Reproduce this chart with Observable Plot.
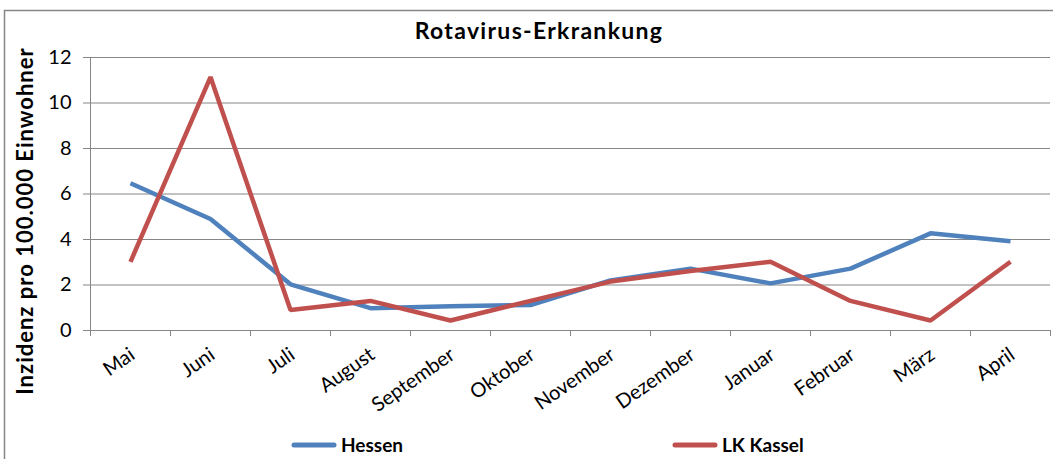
<!DOCTYPE html>
<html>
<head>
<meta charset="utf-8">
<script src="https://cdn.jsdelivr.net/npm/d3@7"></script>
<script src="https://cdn.jsdelivr.net/npm/@observablehq/plot@0.6"></script>
<style>
  html, body { margin: 0; padding: 0; background: #fff; }
  svg { display: block; }
</style>
</head>
<body>
<div id="chart"></div>
<script>
const months = ["Mai","Juni","Juli","August","September","Oktober","November","Dezember","Januar","Februar","März","April"];
const hessen = [6.47, 4.90, 2.03, 0.98, 1.07, 1.12, 2.20, 2.72, 2.07, 2.72, 4.27, 3.92];
const kassel = [3.02, 11.14, 0.90, 1.30, 0.44, 1.30, 2.15, 2.62, 3.02, 1.30, 0.44, 3.02];
const yTicks = [0, 2, 4, 6, 8, 10, 12];
const seriesNames = ["Hessen", "LK Kassel"];
const seriesColors = ["#4F81BD", "#C0504D"];
const title = "Rotavirus-Erkrankung";
const yLabel = "Inzidenz pro 100.000 Einwohner";

const rows = [];
months.forEach((m, i) => {
  rows.push({i, month: m, series: seriesNames[0], v: hessen[i]});
  rows.push({i, month: m, series: seriesNames[1], v: kassel[i]});
});
const boundaries = d3.range(months.length + 1).map(k => k - 0.5);
const grey = "#868686";
const font = "Lato, 'Open Sans', sans-serif";

const svg = Plot.plot({
  width: 1053,
  height: 459,
  marginLeft: 90,
  marginRight: 3,
  marginTop: 57,
  marginBottom: 129,
  style: {fontFamily: font, background: "white", color: "#000"},
  x: {type: "linear", domain: [-0.5, months.length - 0.5]},
  y: {domain: [0, 12]},
  color: {domain: seriesNames, range: seriesColors},
  marks: [
    Plot.gridY(yTicks, {stroke: grey, strokeOpacity: 1, strokeWidth: 1}),
    Plot.ruleX([-0.5], {stroke: grey, strokeWidth: 1}),
    Plot.axisY(yTicks, {tickSize: 7, tickPadding: 12, fontSize: 20, stroke: grey, label: null}),
    Plot.axisX(boundaries, {tickSize: 6, tickFormat: () => "", stroke: grey, label: null}),
    Plot.axisX(d3.range(months.length), {
      tickSize: 0, tickPadding: 22, dx: 2, tickFormat: i => months[i], tickRotate: -35,
      fontSize: 20, textAnchor: "end", label: null
    }),
    Plot.line(rows, {x: "i", y: "v", z: "series", stroke: "series", strokeWidth: 4.5, strokeLinejoin: "miter", strokeLinecap: "butt"})
  ]
});

const s = d3.select(svg);
s.append("rect")
  .attr("x", 4.5).attr("y", 10.5).attr("width", 1060).attr("height", 460)
  .attr("fill", "none").attr("stroke", grey).attr("stroke-width", 1.5);
s.append("text")
  .attr("x", 539).attr("y", 39).attr("text-anchor", "middle")
  .attr("font-family", font).attr("font-weight", "bold").attr("font-size", 23)
  .attr("letter-spacing", 1.3)
  .attr("fill", "#000").text(title);
s.append("text")
  .attr("transform", "translate(33,221) rotate(-90)").attr("text-anchor", "middle")
  .attr("font-family", font).attr("font-weight", "bold").attr("font-size", 22)
  .attr("letter-spacing", 1)
  .attr("fill", "#000").text(yLabel);

const legendItems = [{x: 292, name: seriesNames[0], color: seriesColors[0]}, {x: 673, name: seriesNames[1], color: seriesColors[1]}];
legendItems.forEach(d => {
  s.append("line").attr("x1", d.x + 2).attr("x2", d.x + 42).attr("y1", 445).attr("y2", 445)
    .attr("stroke", d.color).attr("stroke-width", 5).attr("stroke-linecap", "round");
  s.append("text").attr("x", d.x + 49).attr("y", 452).attr("text-anchor", "start")
    .attr("font-family", font).attr("font-weight", "bold").attr("font-size", 19)
    .attr("fill", "#000").text(d.name);
});

document.getElementById("chart").appendChild(svg);
</script>
</body>
</html>
